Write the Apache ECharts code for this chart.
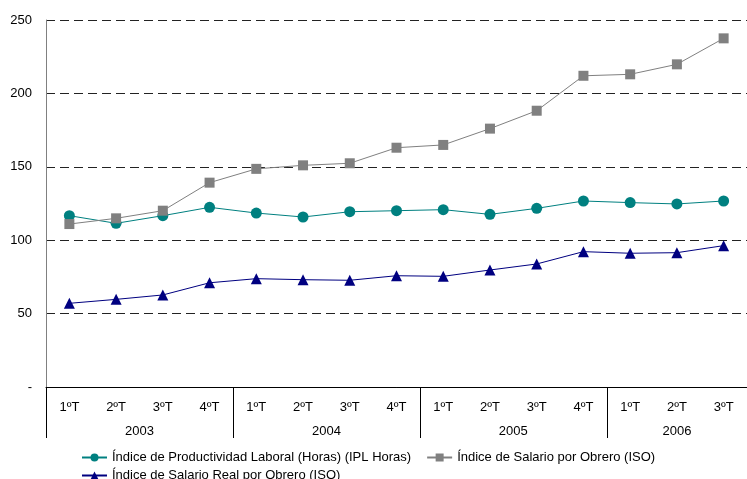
<!DOCTYPE html>
<html>
<head>
<meta charset="utf-8">
<script src="https://cdn.jsdelivr.net/npm/echarts@6/dist/echarts.min.js"></script>
<style>
  html, body { margin: 0; padding: 0; background: #fff; }
  #main { width: 747px; height: 479px; }
</style>
</head>
<body>
<div id="main"></div>
<script>
// trimestres y años
var quarters = ['1ºT', '2ºT', '3ºT', '4ºT', '1ºT', '2ºT', '3ºT', '4ºT',
                '1ºT', '2ºT', '3ºT', '4ºT', '1ºT', '2ºT', '3ºT'];
var years = ['2003', '2004', '2005', '2006'];
var yearQuarters = [4, 4, 4, 3];

// series
var ipl = [116.7, 111.5, 116.7, 122.4, 118.5, 115.8, 119.4, 120.1, 120.8, 117.6, 121.7, 126.7, 125.6, 124.7, 126.7];
var iso = [111, 114.9, 120.1, 139.2, 148.6, 151, 152.4, 163, 164.9, 176, 188.2, 212, 213, 219.8, 237.5];
var real = [57, 59.7, 62.7, 71, 73.8, 73.1, 72.7, 75.8, 75.4, 79.7, 83.8, 92.2, 91.1, 91.5, 96.3];

var names = [
    'Índice de Productividad Laboral (Horas) (IPL Horas)',
    'Índice de Salario por Obrero (ISO)',
    'Índice de Salario Real por Obrero (ISO)'
];

// límites y centros de cada año en unidades de trimestre
var yearEdges = [0];
var yearCenters = [];
var acc = 0;
for (var i = 0; i < yearQuarters.length; i++) {
    yearCenters.push(acc + yearQuarters[i] / 2);
    acc += yearQuarters[i];
    yearEdges.push(acc);
}

var myChart = echarts.init(document.getElementById('main'));

var font = 'Liberation Sans, Arial, sans-serif';

option = {
    animation: false,
    backgroundColor: '#ffffff',
    textStyle: { fontFamily: font },
    grid: { left: 46, right: 0, top: 20, bottom: 92 },
    legend: [{
        data: [names[0], names[1]],
        left: 81,
        top: 451,
        padding: 0,
        itemWidth: 25,
        itemHeight: 10,
        itemGap: 15,
        textStyle: { fontSize: 13, color: '#000', fontFamily: font }
    }, {
        data: [names[2]],
        left: 81,
        top: 469,
        padding: 0,
        itemWidth: 25,
        itemHeight: 10,
        textStyle: { fontSize: 13, color: '#000', fontFamily: font }
    }],
    xAxis: [{
        type: 'category',
        data: quarters,
        boundaryGap: true,
        axisLine: { lineStyle: { color: '#000', width: 1 } },
        axisTick: { length: 26, interval: 0, lineStyle: { color: '#000' } },
        axisLabel: { interval: 0, margin: 14, fontSize: 13, color: '#000', fontFamily: font }
    }, {
        type: 'value',
        min: 0,
        max: acc,
        position: 'bottom',
        splitLine: { show: false },
        axisLine: { show: false },
        axisTick: { show: true, length: 51, customValues: yearEdges, lineStyle: { color: '#000' } },
        axisLabel: {
            margin: 38,
            fontSize: 13,
            color: '#000',
            fontFamily: font,
            customValues: yearCenters,
            formatter: function (v) {
                var k = yearCenters.indexOf(v);
                return k >= 0 ? years[k] : '';
            }
        }
    }],
    yAxis: {
        type: 'value',
        min: 0,
        max: 250,
        interval: 50,
        axisLine: { show: true, lineStyle: { color: '#808080' } },
        axisTick: { show: false },
        axisLabel: {
            margin: 14,
            fontSize: 13,
            color: '#000',
            fontFamily: font,
            formatter: function (v) { return v === 0 ? '-' : v; }
        },
        splitLine: { lineStyle: { color: '#222', type: [9, 5], width: 1 } }
    },
    series: [{
        name: names[0],
        type: 'line',
        data: ipl,
        symbol: 'circle',
        symbolSize: 11,
        itemStyle: { color: '#008080' },
        lineStyle: { color: '#008080', width: 1 }
    }, {
        name: names[1],
        type: 'line',
        data: iso,
        symbol: 'rect',
        symbolSize: 10,
        itemStyle: { color: '#808080' },
        lineStyle: { color: '#808080', width: 1 }
    }, {
        name: names[2],
        type: 'line',
        data: real,
        symbol: 'triangle',
        symbolSize: 11,
        itemStyle: { color: '#000080' },
        lineStyle: { color: '#000080', width: 1 }
    }]
};

myChart.setOption(option);
</script>
</body>
</html>
